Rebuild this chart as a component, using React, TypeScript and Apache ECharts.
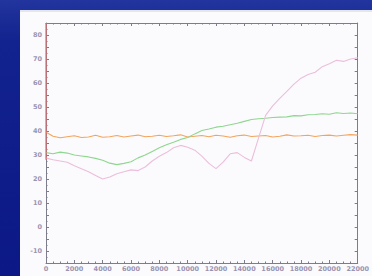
import React, { useEffect, useRef } from "react";
import * as echarts from "echarts";

const xValues: number[] = [];
for (let i = 0; i <= 44; i++) xValues.push(i * 500);

const orangeSeries = [39.5, 37.8, 37.2, 37.6, 38.0, 37.3, 37.5, 38.2, 37.4, 37.6, 38.1, 37.5, 37.9, 38.3, 37.6, 37.8, 38.2, 37.7, 38.0, 38.4, 37.5, 37.8, 38.1, 37.6, 38.2, 37.9, 37.4, 38.0, 38.3, 37.7, 37.9, 38.1, 37.5, 37.8, 38.4, 37.9, 38.0, 38.2, 37.7, 38.1, 38.3, 37.9, 38.2, 38.5, 38.3];
const greenSeries = [31.0, 30.5, 31.2, 30.8, 30.0, 29.6, 29.2, 28.6, 27.8, 26.6, 26.0, 26.5, 27.2, 28.8, 30.0, 31.5, 33.0, 34.3, 35.3, 36.5, 37.3, 38.8, 40.2, 40.8, 41.6, 42.0, 42.6, 43.2, 44.0, 44.8, 45.1, 45.3, 45.6, 45.8, 45.9, 46.4, 46.3, 46.8, 46.9, 47.2, 47.0, 47.6, 47.3, 47.5, 47.2];
const pinkSeries = [28.7, 28.0, 27.5, 27.0, 25.5, 24.3, 23.0, 21.5, 20.0, 20.8, 22.2, 23.0, 23.8, 23.5, 25.0, 27.5, 29.5, 31.0, 33.0, 34.0, 33.2, 32.0, 29.5, 26.5, 24.3, 27.0, 30.5, 31.0, 29.0, 27.5, 37.0, 46.5, 50.5, 53.6, 56.5, 59.5, 62.0, 63.5, 64.5, 66.8, 68.0, 69.5, 69.0, 70.0, 70.5];
const redStart = [[0, 85], [0, 28]];

const xTickLabels = ["0", "2000", "4000", "6000", "8000", "10000", "12000", "14000", "16000", "18000", "20000", "22000"];

export default function App() {
  const ref = useRef<HTMLDivElement>(null);
  useEffect(() => {
    const chart = echarts.init(ref.current!, null, { renderer: "svg" });
    const axisColor = "#7c7c8a";
    const labelStyle = { color: "#9a94b0", fontSize: 6.5, fontFamily: "DejaVu Sans", fontWeight: "bold" as const };
    const pair = (arr: number[]) => arr.map((v, i) => [xValues[i], v]);
    const tick = { inside: true, length: 3, lineStyle: { color: axisColor } };
    const minor = { show: true, splitNumber: 4, length: 1.5, lineStyle: { color: axisColor } };
    chart.setOption({
      animation: false,
      backgroundColor: {
        type: "linear", x: 0, y: 0, x2: 0, y2: 1,
        colorStops: [
          { offset: 0, color: "#22349e" },
          { offset: 0.15, color: "#12228e" },
          { offset: 1, color: "#0b1886" },
        ],
      },
      graphic: [
        { type: "rect", shape: { x: 20, y: 10, width: 352, height: 266 }, style: { fill: "#fbfbfd" }, z: -10 },
        { type: "rect", shape: { x: 20, y: 10, width: 352, height: 2 }, style: { fill: "#e4e6ee" }, z: -9 },
      ],
      grid: { left: 46, top: 23, right: 4, bottom: 13 },
      xAxis: [
        {
          type: "value", min: 0, max: 22000, interval: 2000,
          axisLine: { onZero: false, lineStyle: { color: axisColor, width: 1 } },
          axisTick: tick, minorTick: minor,
          splitLine: { show: false },
          axisLabel: { ...labelStyle, margin: 2, alignMaxLabel: "center", alignMinLabel: "center", formatter: (v: number) => xTickLabels[Math.round(v / 2000)] ?? "" },
        },
        {
          type: "value", position: "top", min: 0, max: 22000, interval: 2000,
          axisLine: { show: true, onZero: false, lineStyle: { color: axisColor, width: 1 } },
          axisTick: tick, minorTick: minor,
          splitLine: { show: false },
          axisLabel: { show: false },
        },
      ],
      yAxis: [
        {
          type: "value", min: -15, max: 85, interval: 5,
          axisLine: { show: true, onZero: false, lineStyle: { color: axisColor, width: 1 } },
          axisTick: tick,
          minorTick: { ...minor, splitNumber: 2 },
          splitLine: { show: false },
          axisLabel: { ...labelStyle, margin: 4, formatter: (v: number) => (v % 10 === 0 ? String(v) : "") },
        },
        {
          type: "value", position: "right", min: -15, max: 85, interval: 5,
          axisLine: { show: true, onZero: false, lineStyle: { color: axisColor, width: 1 } },
          axisTick: tick,
          splitLine: { show: false },
          axisLabel: { show: false },
        },
      ],
      series: [
        { type: "line", data: pair(orangeSeries), showSymbol: false, lineStyle: { color: "#f3a45e", width: 1.1 }, itemStyle: { color: "#f3a45e" } },
        { type: "line", data: pair(greenSeries), showSymbol: false, lineStyle: { color: "#8fd68f", width: 1.1 }, itemStyle: { color: "#8fd68f" } },
        { type: "line", data: pair(pinkSeries), showSymbol: false, lineStyle: { color: "#ecbedb", width: 1.1 }, itemStyle: { color: "#ecbedb" } },
        { type: "line", data: redStart, showSymbol: false, lineStyle: { color: "#e36a6a", width: 1.2 }, itemStyle: { color: "#e36a6a" } },
      ],
    });
    return () => chart.dispose();
  }, []);
  return <div ref={ref} style={{ position: "fixed", left: 0, top: 0, width: 372, height: 276 }} />;
}
